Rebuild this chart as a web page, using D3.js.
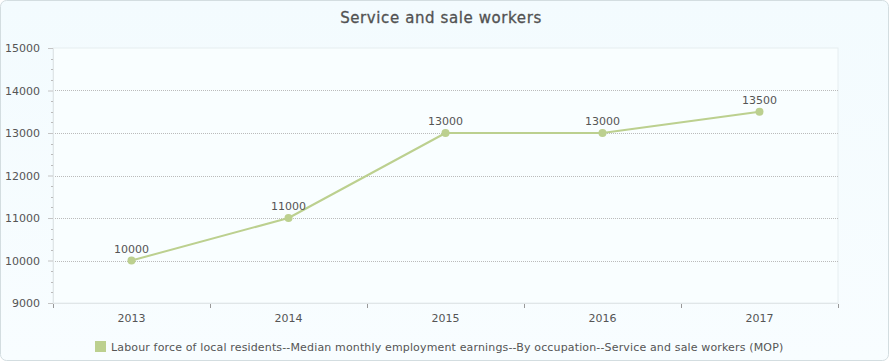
<!DOCTYPE html>
<html>
<head>
<meta charset="utf-8">
<script src="https://cdn.jsdelivr.net/npm/d3@7"></script>
<style>
  html, body { margin: 0; padding: 0; background: #fff; }
  svg { display: block; font-family: "DejaVu Sans", Verdana, sans-serif; }
</style>
</head>
<body>
<div id="chart"></div>
<script>
const title = 'Service and sale workers';
const seriesName = 'Labour force of local residents--Median monthly employment earnings--By occupation--Service and sale workers (MOP)';
const years = ['2013', '2014', '2015', '2016', '2017'];
const earnings = [10000, 11000, 13000, 13000, 13500];
const yTicks = [9000, 10000, 11000, 12000, 13000, 14000, 15000];

const width = 890, height = 362;
const margin = { top: 48, right: 52, bottom: 59, left: 53 };
const chartWidth = width - margin.left - margin.right;
const chartHeight = height - margin.top - margin.bottom;
const lineColor = '#bcd08f';
const textColor = '#555';

const svg = d3.select('#chart').append('svg')
  .attr('width', width)
  .attr('height', height);

// background panel with soft gradient
const defs = svg.append('defs');
const grad = defs.append('linearGradient')
  .attr('id', 'bg').attr('x1', 0).attr('y1', 0).attr('x2', 0).attr('y2', 1);
grad.append('stop').attr('offset', '0%').attr('stop-color', '#f3fbfe');
grad.append('stop').attr('offset', '100%').attr('stop-color', '#f8fdff');

svg.append('rect')
  .attr('x', 0.5).attr('y', 0.5)
  .attr('width', width - 2).attr('height', height - 2)
  .attr('rx', 6)
  .attr('fill', 'url(#bg)')
  .attr('stroke', '#d3dde0');

svg.append('text')
  .attr('x', width / 2 - 4)
  .attr('y', 23)
  .attr('text-anchor', 'middle')
  .attr('font-size', '15px')
  .attr('fill', '#525252')
  .attr('stroke', '#525252')
  .attr('stroke-width', 0.3)
  .style('letter-spacing', '0.6px')
  .text(title);

const g = svg.append('g').attr('transform', `translate(${margin.left},${margin.top})`);

const xScale = d3.scaleBand().domain(years).range([0, chartWidth]);
const yScale = d3.scaleLinear().domain([9000, 15000]).range([chartHeight, 0]);

// plot area
g.append('rect')
  .attr('width', chartWidth).attr('height', chartHeight)
  .attr('fill', '#f9feff')
  .attr('stroke', '#e6eef0');

// dotted gridlines
g.append('g')
  .selectAll('line')
  .data(yTicks.filter(t => t > 9000 && t < 15000))
  .join('line')
  .attr('x1', 0).attr('x2', chartWidth)
  .attr('y1', d => Math.round(yScale(d)) + 0.5)
  .attr('y2', d => Math.round(yScale(d)) + 0.5)
  .attr('stroke', '#bbbbbb')
  .attr('stroke-dasharray', '1,1');

// y axis
const yAxis = g.append('g')
  .call(d3.axisLeft(yScale).tickValues(yTicks).tickFormat(d3.format('d')).tickSize(5).tickPadding(8));
yAxis.select('.domain').attr('stroke', '#e0e6e8');
yAxis.selectAll('.tick line').attr('stroke', '#c4c4c4');
yAxis.selectAll('text').attr('fill', textColor).attr('font-size', '11px').attr('font-family', '"DejaVu Sans", Verdana, sans-serif');

// minor ticks
g.append('g')
  .selectAll('line')
  .data(d3.range(9000, 15000, 250).filter(v => v % 1000 !== 0))
  .join('line')
  .attr('x1', -2).attr('x2', 0)
  .attr('y1', d => Math.round(yScale(d)) + 0.5)
  .attr('y2', d => Math.round(yScale(d)) + 0.5)
  .attr('stroke', '#bbb');

// x axis: ticks at band boundaries
const xAxis = g.append('g').attr('transform', `translate(0,${chartHeight})`);
xAxis.append('line')
  .attr('x1', 0).attr('x2', chartWidth)
  .attr('y1', 0.5).attr('y2', 0.5)
  .attr('stroke', '#e0e6e8');
const bounds = years.map(y => xScale(y)).concat([chartWidth]);
xAxis.selectAll('line.tk')
  .data(bounds)
  .join('line')
  .attr('class', 'tk')
  .attr('x1', d => Math.round(d) + 0.5).attr('x2', d => Math.round(d) + 0.5)
  .attr('y1', 1).attr('y2', 5)
  .attr('stroke', '#999');
xAxis.selectAll('text')
  .data(years)
  .join('text')
  .attr('x', d => xScale(d) + xScale.bandwidth() / 2)
  .attr('y', 19)
  .attr('text-anchor', 'middle')
  .attr('font-size', '11px')
  .attr('fill', textColor)
  .text(d => d);

// line
const points = years.map((y, i) => ({ year: y, value: earnings[i] }));
const drawLine = d3.line()
  .x(d => xScale(d.year) + xScale.bandwidth() / 2)
  .y(d => yScale(d.value));

g.append('path')
  .datum(points)
  .attr('fill', 'none')
  .attr('stroke', lineColor)
  .attr('stroke-width', 2)
  .attr('stroke-linejoin', 'round')
  .attr('d', drawLine);

g.selectAll('circle')
  .data(points)
  .join('circle')
  .attr('cx', d => xScale(d.year) + xScale.bandwidth() / 2)
  .attr('cy', d => yScale(d.value))
  .attr('r', 4)
  .attr('fill', lineColor);

g.selectAll('text.val')
  .data(points)
  .join('text')
  .attr('class', 'val')
  .attr('x', d => xScale(d.year) + xScale.bandwidth() / 2)
  .attr('y', d => yScale(d.value) - 8)
  .attr('text-anchor', 'middle')
  .attr('font-size', '11px')
  .attr('fill', textColor)
  .text(d => d.value);

// legend
const legend = svg.append('g').attr('transform', 'translate(95,341)');
legend.append('rect')
  .attr('width', 11).attr('height', 11)
  .attr('fill', lineColor);
legend.append('text')
  .attr('x', 16).attr('y', 10)
  .attr('font-size', '11px')
  .attr('fill', textColor)
  .style('letter-spacing', '0.15px')
  .text(seriesName);
</script>
</body>
</html>
